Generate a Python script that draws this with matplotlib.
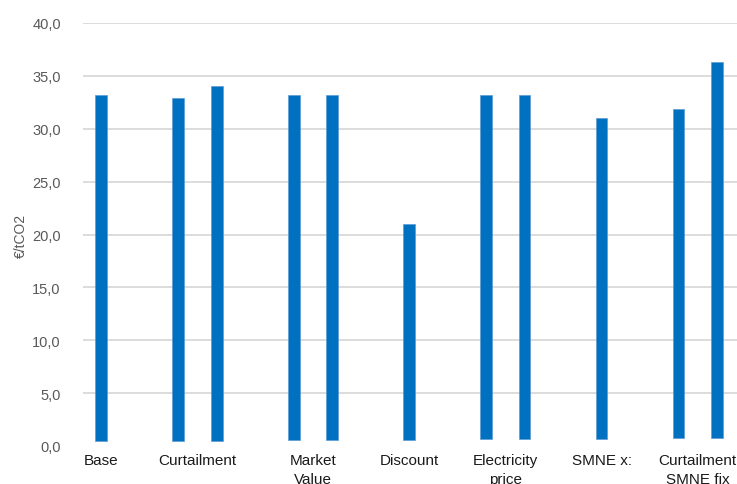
import matplotlib
matplotlib.use("Agg")
import matplotlib.pyplot as plt

plt.rcParams["font.family"] = ["Liberation Sans", "DejaVu Sans"]

# Data (€/tCO2); each bar sits in its own slot
slots = [0, 2, 3, 5, 6, 8, 10, 11, 13, 15, 16]
tops = [33.2, 32.95, 34.0, 33.2, 33.2, 21.0, 33.2, 33.2, 31.0, 31.9, 36.3]
bottoms = [0.5, 0.45, 0.45, 0.57, 0.57, 0.55, 0.63, 0.63, 0.69, 0.76, 0.76]

label_pos = [0, 2.5, 5.5, 8, 10.5, 13, 15.5]
labels = ["Base", "Curtailment", "Market\nValue", "Discount",
          "Electricity\nprice", "SMNE x:", "Curtailment\nSMNE fix"]

heights = [t - b for t, b in zip(tops, bottoms)]

fig = plt.figure(figsize=(7.37, 4.85), dpi=100)
ax = fig.add_axes([83 / 737, 38 / 485, 654 / 737, 423 / 485])

ax.bar(slots, heights, bottom=bottoms, width=0.31, color="#0070C0",
       edgecolor="#5b9bd5", linewidth=0.5, zorder=3)

ax.set_ylim(0, 40)
ax.set_xlim(-0.47, 16.52)
ax.set_yticks(range(0, 41, 5))
ax.set_yticklabels([f"{v:.1f}".replace(".", ",") for v in range(0, 41, 5)],
                   fontsize=10.5, color="#595959")
ax.set_xticks(label_pos)
ax.set_xticklabels(labels, fontsize=11, color="#1a1a1a", linespacing=1.45)
ax.tick_params(axis="both", length=0)
ax.tick_params(axis="y", pad=16)
ax.tick_params(axis="x", pad=5)

ax.grid(axis="y", color="#d9d9d9", linewidth=1.3, zorder=0)
ax.yaxis.get_gridlines()[0].set_visible(False)
for s in ax.spines.values():
    s.set_visible(False)

ax.set_ylabel("€/tCO2", fontsize=10, color="#595959", labelpad=3)

fig.savefig("out.png", dpi=100)
